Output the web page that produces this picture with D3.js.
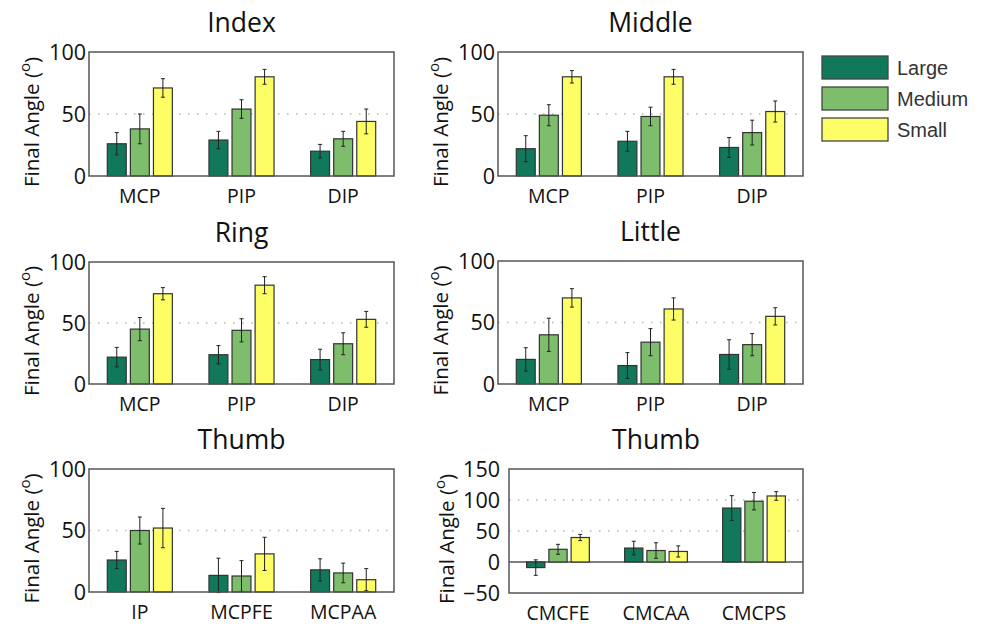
<!DOCTYPE html>
<html>
<head>
	<title>Final Angle</title>
	<script type="text/javascript" src="https://cdnjs.cloudflare.com/ajax/libs/d3/7.8.5/d3.min.js"></script>
	<style>
		body { margin: 0; background: white; }
		text { font-family: "Open Sans", sans-serif; fill: #111; }
	</style>
</head>
<body>
	<svg id="chart" width="987" height="631"></svg>
	<script type="text/javascript">
		var sizes = ["Large", "Medium", "Small"];

		var fingerJoints = ["MCP", "PIP", "DIP"];
		var thumbJointsA = ["IP", "MCPFE", "MCPAA"];
		var thumbJointsB = ["CMCFE", "CMCAA", "CMCPS"];

		// [joint][size] means and errors (degrees)
		var indexMean = [[26, 38, 71], [29, 54, 80], [20, 30, 44]];
		var indexErr = [[9, 12, 7.5], [7, 7.5, 6], [5.5, 6, 10]];
		var middleMean = [[22, 49, 80], [28, 48, 80], [23, 35, 52]];
		var middleErr = [[10.5, 8.5, 5], [8, 7.5, 6], [8, 10, 8.5]];
		var ringMean = [[22, 45, 74], [24, 44, 81], [20, 33, 53]];
		var ringErr = [[8, 9.5, 5], [7.5, 9.5, 7], [8.5, 9, 6.5]];
		var littleMean = [[20, 40, 70], [15, 34, 61], [24, 32, 55]];
		var littleErr = [[9.5, 13.5, 7.5], [10.5, 11, 9], [12, 9, 7]];
		var thumbAMean = [[26, 50, 52], [13.5, 13, 31], [18, 15.5, 10]];
		var thumbAErr = [[7, 11, 16], [14, 12.5, 13.5], [9, 8, 9]];
		var thumbBMean = [[-9, 20.5, 39.5], [22.5, 18.5, 17], [87, 98, 106.5]];
		var thumbBErr = [[12.5, 8, 5], [11, 12.5, 9], [20, 14, 7]];

		var ticks100 = [0, 50, 100];
		var ticks150 = [-50, 0, 50, 100, 150];

		var colors = {Large: "#11785b", Medium: "#7dbd6b", Small: "#fdfd66"};

		var svg = d3.select("#chart");

		var panels = [
			{title: "Index", joints: fingerJoints, mean: indexMean, err: indexErr, domain: [0, 100], ticks: ticks100, grid: [50], box: [89, 394, 52, 176]},
			{title: "Middle", joints: fingerJoints, mean: middleMean, err: middleErr, domain: [0, 100], ticks: ticks100, grid: [50], box: [498, 803, 52, 176]},
			{title: "Ring", joints: fingerJoints, mean: ringMean, err: ringErr, domain: [0, 100], ticks: ticks100, grid: [50], box: [89, 394, 262, 384]},
			{title: "Little", joints: fingerJoints, mean: littleMean, err: littleErr, domain: [0, 100], ticks: ticks100, grid: [50], box: [498, 803, 261, 384]},
			{title: "Thumb", joints: thumbJointsA, mean: thumbAMean, err: thumbAErr, domain: [0, 100], ticks: ticks100, grid: [50], box: [89, 394, 469, 592]},
			{title: "Thumb", joints: thumbJointsB, mean: thumbBMean, err: thumbBErr, domain: [-50, 150], ticks: ticks150, grid: [50, 100], box: [509, 803, 469, 593], zero: true}
		];

		panels.forEach(function (p) {
			var x0 = p.box[0], x1 = p.box[1], y0 = p.box[2], y1 = p.box[3];
			var g = svg.append("g");

			var x = d3.scaleBand().domain(p.joints).range([x0, x1]);
			var groupW = x.bandwidth() * 0.64;
			var xs = d3.scaleBand().domain(sizes).range([-groupW / 2, groupW / 2]).paddingInner(0.18);
			var y = d3.scaleLinear().domain(p.domain).range([y1, y0]);

			// dotted reference lines
			p.grid.forEach(function (v) {
				g.append("line")
					.attr("x1", x0).attr("x2", x1)
					.attr("y1", y(v)).attr("y2", y(v))
					.attr("stroke", "#b5b5b5")
					.attr("stroke-width", 1.5)
					.attr("stroke-dasharray", "1.5,7.5");
			});
			if (p.zero) {
				g.append("line")
					.attr("x1", x0).attr("x2", x1)
					.attr("y1", y(0)).attr("y2", y(0))
					.attr("stroke", "#555").attr("stroke-width", 1.3);
			}

			p.joints.forEach(function (j, ji) {
				sizes.forEach(function (s, si) {
					var m = p.mean[ji][si], e = p.err[ji][si];
					var bx = x(j) + x.bandwidth() / 2 + xs(s);
					var bw = xs.bandwidth();
					g.append("rect")
						.attr("x", bx)
						.attr("y", y(Math.max(m, 0)))
						.attr("width", bw)
						.attr("height", Math.abs(y(m) - y(0)))
						.attr("fill", colors[s])
						.attr("stroke", "#333")
						.attr("stroke-width", 1.2);
					var cx = bx + bw / 2;
					g.append("line")
						.attr("x1", cx).attr("x2", cx)
						.attr("y1", y(m + e)).attr("y2", y(m - e))
						.attr("stroke", "#222").attr("stroke-width", 1);
					[m + e, m - e].forEach(function (v) {
						g.append("line")
							.attr("x1", cx - 2).attr("x2", cx + 2)
							.attr("y1", y(v)).attr("y2", y(v))
							.attr("stroke", "#222").attr("stroke-width", 1);
					});
				});
				g.append("text")
					.attr("x", x(j) + x.bandwidth() / 2)
					.attr("y", y1 + 27)
					.attr("text-anchor", "middle")
					.style("font-size", "19.5px")
					.text(j);
			});

			// box
			g.append("rect")
				.attr("x", x0).attr("y", y0)
				.attr("width", x1 - x0).attr("height", y1 - y0)
				.attr("fill", "none")
				.attr("stroke", "#555")
				.attr("stroke-width", 1.5);

			var gap = p.zero ? 9 : 3;
			p.ticks.forEach(function (t) {
				g.append("text")
					.attr("x", x0 - gap)
					.attr("y", y(t))
					.attr("dy", "0.36em")
					.attr("text-anchor", "end")
					.style("font-size", "21.5px")
					.text(t < 0 ? "\u2212" + Math.abs(t) : t);
			});

			g.append("text")
				.attr("x", (x0 + x1) / 2)
				.attr("y", y0 - 20)
				.attr("text-anchor", "middle")
				.style("font-size", "26.5px")
				.text(p.title);

			var lab = g.append("text")
				.attr("transform", "translate(" + (x0 - (p.zero ? 63 : 58)) + "," + ((y0 + y1) / 2 + 8) + ") rotate(-90)")
				.attr("text-anchor", "middle")
				.attr("dominant-baseline", "central")
				.style("font-size", "20.5px");
			lab.append("tspan").text("Final Angle (");
			lab.append("tspan").attr("dy", -7).style("font-size", "15px").text("o");
			lab.append("tspan").attr("dy", 7).text(")");
		});

		// legend
		var legend = svg.append("g");
		sizes.forEach(function (s, i) {
			legend.append("rect")
				.attr("x", 822).attr("y", 56 + i * 31)
				.attr("width", 66).attr("height", 23)
				.attr("fill", colors[s])
				.attr("stroke", "#444")
				.attr("stroke-width", 1.3);
			legend.append("text")
				.attr("x", 897).attr("y", 67.5 + i * 31)
				.attr("dy", "0.36em")
				.style("font-family", "'Liberation Sans', Arial, sans-serif")
				.style("font-size", "20px")
				.style("fill", "#333")
				.text(s);
		});
	</script>
</body>
</html>
